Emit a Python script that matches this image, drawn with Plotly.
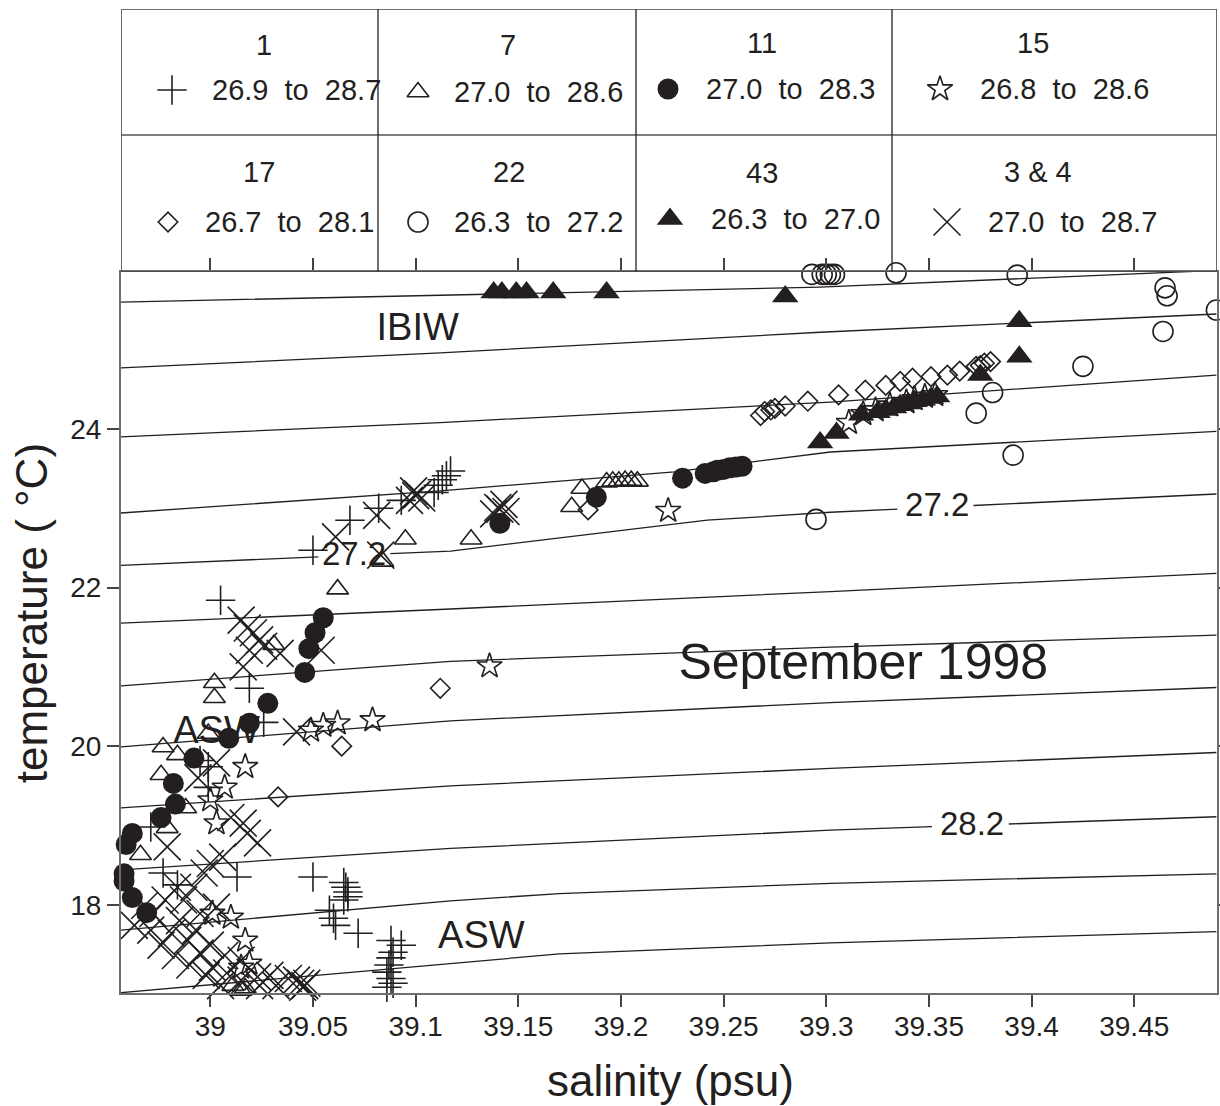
import numpy as np
import plotly.graph_objects as go

INK = "#231f20"
FRAME = "#6d6e71"
FONT = "Liberation Sans, Arial, Helvetica, sans-serif"

# ---------------------------------------------------------------- stations
stations = ["1", "7", "11", "15", "17", "22", "43", "3 & 4"]
sigma_low = ["26.9", "27.0", "27.0", "26.8", "26.7", "26.3", "26.3", "27.0"]
sigma_high = ["28.7", "28.6", "28.3", "28.6", "28.1", "27.2", "27.0", "28.7"]

# salinity (psu) / temperature (deg C) per station
sal_st1 = [39.005, 39.050, 39.068, 39.082, 39.093, 39.109, 39.111, 39.113, 39.115, 39.117,
           39.019, 38.971, 38.977, 38.999, 38.995, 38.999, 38.984, 39.013, 39.026, 39.050,
           39.065, 39.066, 39.067, 39.067, 39.065, 39.058, 39.060, 39.061, 39.072, 39.088,
           39.093, 39.089, 39.088, 39.087, 39.086, 39.088, 39.089, 39.086]
tmp_st1 = [21.84, 22.47, 22.85, 23.00, 23.10, 23.20, 23.29, 23.36, 23.41, 23.47,
           20.73, 18.98, 18.40, 19.74, 19.82, 19.48, 18.25, 18.35, 20.30, 18.35,
           18.28, 18.22, 18.16, 18.10, 18.06, 17.93, 17.83, 17.74, 17.64, 17.55,
           17.49, 17.40, 17.33, 17.24, 17.15, 17.07, 17.01, 16.96]

sal_st7 = [39.062, 39.095, 39.084, 39.031, 39.002, 39.002, 38.977, 38.984, 38.976, 38.988,
           38.979, 38.966, 38.999, 39.011, 39.015, 39.017, 39.127, 39.176, 39.181, 39.193,
           39.196, 39.199, 39.202, 39.205, 39.208]
tmp_st7 = [21.98, 22.61, 22.33, 21.28, 20.80, 20.61, 19.99, 19.89, 19.64, 19.22,
           18.97, 18.63, 20.16, 16.98, 16.92, 16.95, 22.61, 23.02, 23.25, 23.33,
           23.34, 23.34, 23.35, 23.35, 23.34]

sal_st11 = [39.055, 39.051, 39.048, 39.046, 39.028, 39.019, 39.009, 38.992, 38.982, 38.983,
            38.976, 38.962, 38.959, 38.956, 38.958, 38.958, 38.962, 38.969, 39.141, 39.188,
            39.230, 39.241, 39.245, 39.247, 39.250, 39.253, 39.256, 39.259]
tmp_st11 = [21.62, 21.43, 21.23, 20.93, 20.54, 20.29, 20.10, 19.85, 19.53, 19.27,
            19.10, 18.90, 18.76, 18.64, 18.39, 18.30, 18.09, 17.90, 22.81, 23.14,
            23.38, 23.44, 23.46, 23.48, 23.49, 23.51, 23.52, 23.53]

sal_st15 = [39.049, 39.055, 39.062, 39.079, 39.017, 39.007, 39.000, 39.003, 39.001, 39.010,
            39.017, 39.015, 39.019, 39.136, 39.223, 39.311, 39.318, 39.324, 39.331, 39.339,
            39.343, 39.348, 39.353]
tmp_st15 = [20.20, 20.26, 20.29, 20.33, 19.74, 19.48, 19.32, 19.03, 17.89, 17.84,
            17.55, 17.21, 17.26, 21.01, 22.97, 24.08, 24.19, 24.24, 24.30, 24.34,
            24.38, 24.41, 24.43]

sal_st17 = [39.112, 39.064, 39.033, 39.184, 39.268, 39.270, 39.273, 39.275, 39.280, 39.291,
            39.306, 39.319, 39.329, 39.336, 39.342, 39.351, 39.359, 39.365, 39.373, 39.375,
            39.377, 39.380]
tmp_st17 = [20.73, 20.00, 19.36, 22.98, 24.17, 24.22, 24.24, 24.26, 24.29, 24.35,
            24.43, 24.49, 24.55, 24.60, 24.64, 24.66, 24.68, 24.73, 24.79, 24.80,
            24.83, 24.85]

sal_st22 = [39.293, 39.298, 39.300, 39.302, 39.304, 39.334, 39.393, 39.465, 39.466, 39.490,
            39.464, 39.425, 39.381, 39.373, 39.391, 39.295]
tmp_st22 = [25.95, 25.95, 25.95, 25.95, 25.95, 25.97, 25.94, 25.78, 25.68, 25.50,
            25.23, 24.79, 24.46, 24.20, 23.67, 22.86]

sal_st43 = [39.138, 39.142, 39.149, 39.154, 39.167, 39.193, 39.280, 39.394, 39.394, 39.375,
            39.317, 39.305, 39.297, 39.325, 39.329, 39.333, 39.336, 39.340, 39.343, 39.347,
            39.351, 39.354]
tmp_st43 = [25.72, 25.72, 25.72, 25.72, 25.72, 25.72, 25.67, 25.36, 24.91, 24.68,
            24.18, 23.95, 23.83, 24.21, 24.24, 24.27, 24.30, 24.32, 24.35, 24.37,
            24.39, 24.41]

sal_st34 = [39.061, 39.081, 39.083, 39.097, 39.099, 39.100, 39.101, 39.103, 39.138, 39.140,
            39.141, 39.143, 39.144,
            39.015, 39.018, 39.021, 39.024, 39.026, 39.019, 39.016, 39.034, 39.054, 39.042,
            39.003, 38.994, 38.979,
            39.010, 39.016, 39.018, 39.023, 39.006, 39.000, 38.997, 38.992, 38.984, 38.987,
            39.003, 38.995,
            38.968, 38.972, 38.978, 38.963, 38.971, 38.981, 38.985, 38.993, 38.989, 38.976,
            38.983, 38.995, 39.000,
            38.990, 39.001, 39.007, 38.998, 39.008, 39.015, 39.005, 39.015, 39.023, 39.024,
            39.029, 39.032, 39.038,
            39.044, 39.046, 39.047, 39.042, 39.045]
tmp_st34 = [22.64, 22.91, 22.41, 23.10, 23.22, 23.16, 23.18, 23.13, 22.93, 23.01,
            22.99, 23.05, 22.96,
            21.59, 21.49, 21.43, 21.34, 21.26, 21.21, 21.00, 21.17, 21.21, 20.18,
            19.79, 19.60, 18.73,
            19.10, 19.03, 18.90, 18.78, 18.60, 18.52, 18.40, 18.22, 18.22, 18.06,
            17.97, 17.89,
            17.99, 17.89, 18.06, 17.74, 17.68, 17.64, 17.80, 17.68, 17.55, 17.49,
            17.36, 17.39, 17.49,
            17.24, 17.21, 17.36, 17.11, 17.14, 17.30, 16.98, 17.05, 17.09, 16.98,
            17.11, 16.98, 17.07,
            17.01, 16.98, 17.01, 17.05, 16.96]

# ---------------------------------------------------------------- isopycnals (sigma-t)
iso_levels = ["26.4", "26.6", "26.8", "27.0", "27.2", "27.4",
              "27.6", "27.8", "28.0", "28.2", "28.4", "28.6"]
iso_sal_264 = [38.956, 39.297, 39.490]
iso_tmp_264 = [25.60, 25.79, 26.00]
iso_sal_266 = [38.956, 39.112, 39.297, 39.490]
iso_tmp_266 = [24.77, 24.96, 25.22, 25.45]
iso_sal_268 = [38.956, 39.112, 39.302, 39.490]
iso_tmp_268 = [23.90, 24.08, 24.34, 24.68]
iso_sal_270 = [38.956, 39.112, 39.226, 39.302, 39.490]
iso_tmp_270 = [22.94, 23.22, 23.46, 23.71, 23.97]
iso_sal_272 = [38.956, 39.117, 39.242, 39.302, 39.490]
iso_tmp_272 = [22.28, 22.46, 22.85, 22.95, 23.18]
iso_sal_274 = [38.956, 39.117, 39.302, 39.490]
iso_tmp_274 = [21.55, 21.73, 21.95, 22.18]
iso_sal_276 = [38.956, 39.117, 39.302, 39.490]
iso_tmp_276 = [20.76, 21.07, 21.25, 21.40]
iso_sal_278 = [38.956, 39.117, 39.302, 39.490]
iso_tmp_278 = [19.99, 20.32, 20.55, 20.74]
iso_sal_280 = [38.956, 39.117, 39.302, 39.490]
iso_tmp_280 = [19.22, 19.50, 19.72, 19.92]
iso_sal_282 = [38.956, 39.117, 39.302, 39.490]
iso_tmp_282 = [18.44, 18.71, 18.94, 19.11]
iso_sal_284 = [38.956, 39.117, 39.170, 39.302, 39.490]
iso_tmp_284 = [17.68, 18.05, 18.14, 18.27, 18.39]
iso_sal_286 = [38.956, 39.117, 39.170, 39.302, 39.490]
iso_tmp_286 = [16.89, 17.26, 17.38, 17.52, 17.66]

# axis ticks
x_ticks = [39.0, 39.05, 39.1, 39.15, 39.2, 39.25, 39.3, 39.35, 39.4, 39.45]
x_tick_text = ["39", "39.05", "39.1", "39.15", "39.2", "39.25", "39.3", "39.35", "39.4", "39.45"]
y_ticks = [18, 20, 22, 24]
y_tick_text = ["18", "20", "22", "24"]

# ---------------------------------------------------------------- styling
series = {
    "1": (sal_st1, tmp_st1),
    "7": (sal_st7, tmp_st7),
    "11": (sal_st11, tmp_st11),
    "15": (sal_st15, tmp_st15),
    "17": (sal_st17, tmp_st17),
    "22": (sal_st22, tmp_st22),
    "43": (sal_st43, tmp_st43),
    "3 & 4": (sal_st34, tmp_st34),
}
LW = 1.6
marker_style = {
    "1": dict(symbol="cross-thin", size=21, color=INK, line=dict(width=LW, color=INK)),
    "7": dict(symbol="triangle-up-open", size=19, color=INK, line=dict(width=LW, color=INK)),
    "11": dict(symbol="circle", size=21, color=INK, line=dict(width=0)),
    "15": dict(symbol="star-open", size=19, color=INK, line=dict(width=LW, color=INK)),
    "17": dict(symbol="diamond-open", size=15, color=INK, line=dict(width=LW, color=INK)),
    "22": dict(symbol="circle-open", size=20, color=INK, line=dict(width=LW, color=INK)),
    "43": dict(symbol="triangle-up", size=23, color=INK, line=dict(width=0)),
    "3 & 4": dict(symbol="x-thin", size=27, color=INK, line=dict(width=LW, color=INK)),
}
draw_order = ["22", "17", "15", "43", "7", "11", "1", "3 & 4"]

# room left in contour lines for their labels
label_gaps = {
    "27.2": [(39.0526, 39.0877), (39.3346, 39.3717)],
    "28.2": [(39.3515, 39.3889)],
}


def split_line(xs, ys, gaps):
    """Break a polyline where a contour label sits."""
    knots = sorted(set(list(xs) + [v for g in gaps for v in g]))
    yk = np.interp(knots, xs, ys)
    ox, oy = [], []
    for x, y in zip(knots, yk):
        if any(g0 < x < g1 for g0, g1 in gaps):
            continue
        ox.append(x)
        oy.append(float(y))
        if any(abs(x - g0) < 1e-12 for g0, _ in gaps):
            ox.append(None)
            oy.append(None)
    return ox, oy


fig = go.Figure()

iso_lines = [
    (iso_sal_264, iso_tmp_264), (iso_sal_266, iso_tmp_266), (iso_sal_268, iso_tmp_268),
    (iso_sal_270, iso_tmp_270), (iso_sal_272, iso_tmp_272), (iso_sal_274, iso_tmp_274),
    (iso_sal_276, iso_tmp_276), (iso_sal_278, iso_tmp_278), (iso_sal_280, iso_tmp_280),
    (iso_sal_282, iso_tmp_282), (iso_sal_284, iso_tmp_284), (iso_sal_286, iso_tmp_286),
]
for level, (xs, ys) in zip(iso_levels, iso_lines):
    lx, ly = split_line(xs, ys, label_gaps.get(level, []))
    fig.add_trace(go.Scatter(x=lx, y=ly, mode="lines",
                             line=dict(color=INK, width=1.3),
                             hoverinfo="skip", showlegend=False))

# in-plot labels (drawn beneath the station markers)
plot_labels = ["IBIW", "ASW", "ASW", "September 1998", "27.2", "27.2", "28.2"]
label_pos = dict(
    x=[39.101, 39.003, 39.132, 39.318, 39.070, 39.354, 39.371],
    y=[25.24, 20.16, 17.58, 21.00, 22.39, 23.01, 18.99],
    size=[38, 38, 38, 50, 33, 33, 33],
)
fig.add_trace(go.Scatter(
    x=label_pos["x"], y=label_pos["y"], text=plot_labels, mode="text",
    textposition="middle center",
    textfont=dict(family=FONT, size=label_pos["size"], color=INK),
    hoverinfo="skip", showlegend=False, cliponaxis=False))

for st in draw_order:
    xs, ys = series[st]
    fig.add_trace(go.Scatter(x=xs, y=ys, mode="markers", name=st,
                             marker=marker_style[st], cliponaxis=False,
                             hoverinfo="skip", showlegend=False))

# ---------------------------------------------------------------- key panel
# the key lives on its own hidden axes laid over the strip above the plot
key_cells = {
    # station: (title x, title y, symbol x, symbol y, text left x)
    "1": (264, 45, 172, 90, 210),
    "7": (508, 45, 418, 92, 452),
    "11": (762, 43, 668, 89, 704),
    "15": (1033, 43, 940, 89, 978),
    "17": (259, 172, 168, 222, 203),
    "22": (509, 172, 418, 222, 452),
    "43": (762, 173, 670, 219, 709),
    "3 & 4": (1038, 172, 947, 222, 986),
}
annotations = []
for st, lo, hi in zip(stations, sigma_low, sigma_high):
    tx, ty, mx, my, lx = key_cells[st]
    fig.add_trace(go.Scatter(x=[mx], y=[my], mode="markers", xaxis="x2", yaxis="y2",
                             marker=marker_style[st], cliponaxis=False,
                             hoverinfo="skip", showlegend=False))
    annotations.append(dict(x=tx, y=ty, xref="x2", yref="y2", text=st, showarrow=False,
                            xanchor="center", yanchor="middle",
                            font=dict(family=FONT, size=29, color=INK)))
    annotations.append(dict(x=lx, y=my, xref="x2", yref="y2",
                            text=f"{lo}\u00a0\u00a0to\u00a0\u00a0{hi}", showarrow=False,
                            xanchor="left", yanchor="middle",
                            font=dict(family=FONT, size=29, color=INK)))

shapes = [
    dict(type="rect", xref="x2", yref="y2", x0=121, x1=1217, y0=9, y1=272,
         line=dict(color="#444", width=1.6)),
    dict(type="line", xref="x2", yref="y2", x0=121, x1=1217, y0=135, y1=135,
         line=dict(color="#555", width=1.6)),
]
for cx in (378, 636, 892):
    shapes.append(dict(type="line", xref="x2", yref="y2", x0=cx, x1=cx, y0=9, y1=272,
                       line=dict(color="#333", width=1.4)))

# axis titles
annotations.append(dict(x=-0.082, y=0.386, xref="paper", yref="paper",
                        text="temperature ( \u00b0C)", textangle=-90, showarrow=False,
                        xanchor="center", yanchor="middle",
                        font=dict(family=FONT, size=44, color=INK)))
annotations.append(dict(x=0.501, y=-0.089, xref="paper", yref="paper",
                        text="salinity (psu)", showarrow=False,
                        xanchor="center", yanchor="middle",
                        font=dict(family=FONT, size=44, color=INK)))

axis_common = dict(showline=True, linecolor=FRAME, linewidth=2, mirror="ticks",
                   ticks="outside", ticklen=12, tickwidth=1.5, tickcolor="#444",
                   showgrid=False, zeroline=False, automargin=False,
                   tickfont=dict(family=FONT, size=28, color=INK))

PLOT_TOP = 0.73272
fig.update_layout(
    width=1220, height=1106,
    margin=dict(l=121, r=3, t=9, b=113, autoexpand=False),
    paper_bgcolor="white", plot_bgcolor="white",
    hovermode=False,
    xaxis=dict(range=[38.9565, 39.4903], tickvals=x_ticks, ticktext=x_tick_text,
               domain=[0, 1], anchor="y", ticklabelstandoff=-5, **axis_common),
    yaxis=dict(range=[16.887, 25.98], tickvals=y_ticks, ticktext=y_tick_text,
               domain=[0, PLOT_TOP], anchor="x", **axis_common),
    xaxis2=dict(range=[121, 1217], domain=[0, 1], anchor="y2", visible=False),
    yaxis2=dict(range=[272, 9], domain=[PLOT_TOP, 1], anchor="x2", visible=False),
    shapes=shapes,
    annotations=annotations,
)

fig.write_html("out.html")
